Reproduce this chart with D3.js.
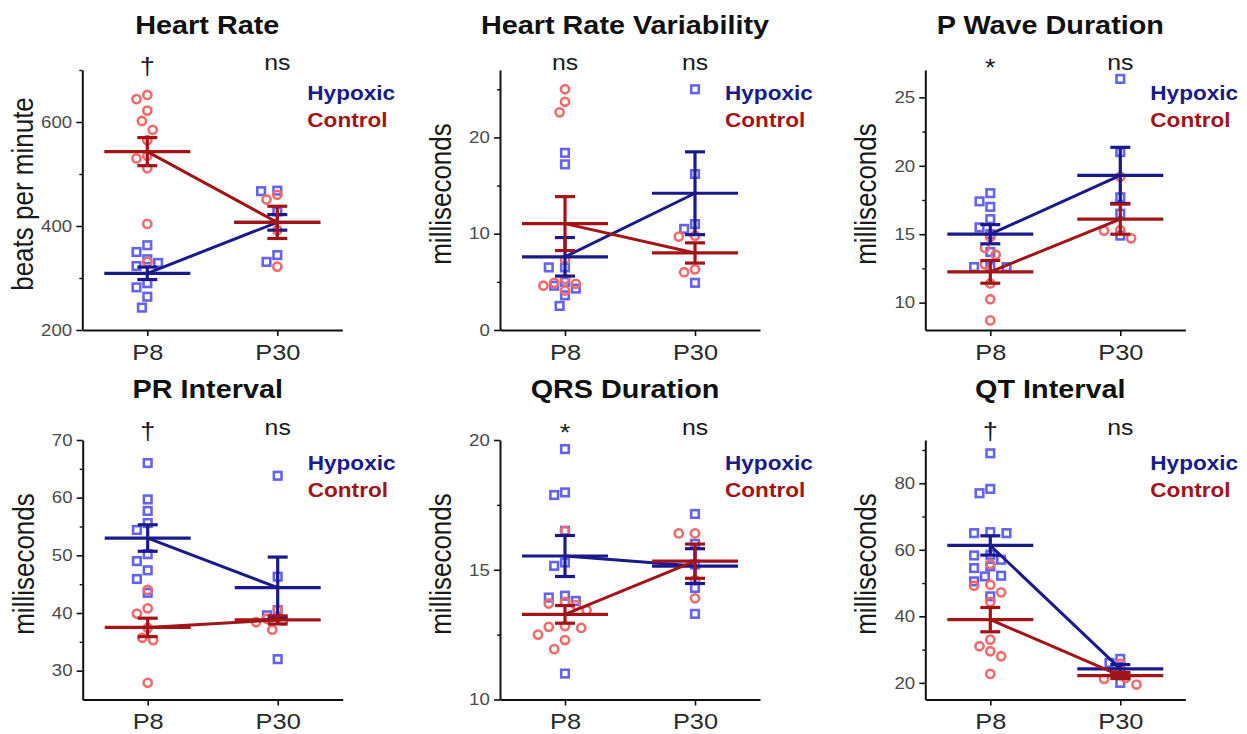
<!DOCTYPE html>
<html><head><meta charset="utf-8">
<script src="https://cdn.jsdelivr.net/npm/d3@7"></script>
<style>body{margin:0;background:#fff} svg{display:block;font-family:"Liberation Sans",Arial,sans-serif}</style>
</head><body><svg id="c" width="1247" height="734"></svg>
<script>
// ---------- DATA ----------
const groups = ["P8", "P30"];
const seriesNames = ["Hypoxic", "Control"];
const titles = ["Heart Rate", "Heart Rate Variability", "P Wave Duration", "PR Interval", "QRS Duration", "QT Interval"];
const yTitles = ["beats per minute", "milliseconds", "milliseconds", "milliseconds", "milliseconds", "milliseconds"];
const sigLabels = [["†", "ns"], ["ns", "ns"], ["*", "ns"], ["†", "ns"], ["*", "ns"], ["†", "ns"]];
const yDomains = [[200, 700], [0, 27], [8, 27], [25, 70], [10, 20], [15, 93]];
const yTicks = [[200, 400, 600], [0, 10, 20], [10, 15, 20, 25], [30, 40, 50, 60, 70], [10, 15, 20], [20, 40, 60, 80]];
const yMinorTicks = [[300, 500, 700], [5, 15, 25], [12.5, 17.5, 22.5], [35, 45, 55, 65], [12.5, 17.5], [30, 50, 70, 90]];

// raw points: hypoxic / control, P8 / P30
const heartRateHypoxicP8 = [363, 350, 336, 329, 323, 290, 282, 264, 243];
const heartRateHypoxicP30 = [468, 467, 428, 344, 331];
const heartRateControlP8 = [652, 644, 622, 602, 585, 565, 535, 530, 511, 404, 331];
const heartRateControlP30 = [460, 451, 392, 322];

const hrvHypoxicP8 = [18.4, 17.2, 6.5, 6.5, 5.0, 4.6, 4.3, 3.6, 2.5];
const hrvHypoxicP30 = [25.0, 16.2, 11.0, 10.5, 4.9];
const hrvControlP8 = [25.0, 23.7, 22.6, 7.3, 5.3, 4.9, 4.8, 4.6, 4.1];
const hrvControlP30 = [9.8, 9.7, 6.3, 6.0];

const pWaveHypoxicP8 = [18.0, 17.4, 17.0, 16.1, 15.5, 15.0, 13.7, 12.6, 12.6, 12.6];
const pWaveHypoxicP30 = [26.35, 21.0, 17.7, 16.5, 14.9];
const pWaveControlP8 = [14.8, 14.0, 13.5, 12.8, 11.4, 10.25, 8.7];
const pWaveControlP30 = [19.2, 15.3, 15.25, 14.7];

const prHypoxicP8 = [66.0, 59.7, 57.7, 55.6, 54.4, 50.2, 49.0, 47.4, 45.9, 43.5];
const prHypoxicP30 = [63.8, 46.3, 40.5, 39.6, 32.0];
const prControlP8 = [44.0, 40.8, 39.9, 37.4, 35.7, 35.3, 27.9];
const prControlP30 = [40.6, 39.0, 38.7, 38.4, 37.1];

const qrsHypoxicP8 = [19.65, 17.98, 17.88, 16.5, 15.28, 15.15, 14.0, 13.93, 13.8, 11.0];
const qrsHypoxicP30 = [17.15, 16.0, 15.2, 14.3, 13.3];
const qrsControlP8 = [16.5, 13.76, 13.7, 13.64, 13.44, 12.83, 12.8, 12.76, 12.5, 12.29, 11.94];
const qrsControlP30 = [16.4, 16.4, 14.6, 13.9];

const qtHypoxicP8 = [89.0, 78.3, 77.0, 65.3, 65.0, 65.0, 58.5, 58.3, 57.0, 55.0, 54.5, 52.2, 52.0, 50.5, 46.0];
const qtHypoxicP30 = [27.2, 26.0, 23.5, 20.0];
const qtControlP8 = [55.7, 49.5, 49.2, 47.2, 44.3, 33.0, 31.0, 29.5, 28.0, 22.7];
const qtControlP30 = [25.8, 22.5, 21.5, 21.2, 19.5];

// mean and SEM per panel, [P8, P30]
const hypoxicMeans = [[309, 407], [7.6, 14.2], [15.0, 19.3], [53.0, 44.4], [15.53, 15.14], [61.3, 24.2]];
const hypoxicSEM = [[12, 15], [2.0, 4.3], [0.7, 2.05], [2.3, 5.3], [0.79, 0.67], [2.9, 1.3]];
const controlMeans = [[543, 407], [11.05, 8.0], [12.25, 16.1], [37.5, 38.8], [13.28, 15.33], [39.0, 22.2]];
const controlSEM = [[27, 31], [2.8, 1.05], [0.83, 1.1], [1.6, 0.7], [0.34, 0.66], [3.65, 0.9]];

const hypoxicPoints = [
  [heartRateHypoxicP8, heartRateHypoxicP30], [hrvHypoxicP8, hrvHypoxicP30], [pWaveHypoxicP8, pWaveHypoxicP30],
  [prHypoxicP8, prHypoxicP30], [qrsHypoxicP8, qrsHypoxicP30], [qtHypoxicP8, qtHypoxicP30]];
const controlPoints = [
  [heartRateControlP8, heartRateControlP30], [hrvControlP8, hrvControlP30], [pWaveControlP8, pWaveControlP30],
  [prControlP8, prControlP30], [qrsControlP8, qrsControlP30], [qtControlP8, qtControlP30]];

// ---------- LAYOUT / STYLE ----------
const SX = 1.13; // horizontal text stretch of the reference
const FONT = '"Liberation Sans", Arial, sans-serif';
const axisXs = [82.3, 500, 925.3, 82.7, 500, 925.3];
const rowTop = [70, 440], rowBottom = [330, 699.5];
const titleY = [33.5, 397.5], sigY = [70, 435], legendY = [[100, 126.5], [470, 496.5]], yTitleY = [194, 564];
const hypMarker = "#6464f0", ctlMarker = "#f06c6c";
const hypLine = "#1b1a8c", ctlLine = "#a31417";

const svg = d3.select("#c");

function stretchText(g, x, y, txt) {
  return g.append("text").attr("transform", `translate(${x},${y}) scale(${SX},1)`).text(txt);
}

function dodge(values, y, cx, minDist, step) {
  const items = values.map(v => ({ v, py: y(v) })).sort((a, b) => a.py - b.py);
  const placed = [];
  items.forEach(p => {
    for (let k = 0; k < 40; k++) {
      const off = k === 0 ? 0 : (k % 2 ? -1 : 1) * Math.ceil(k / 2) * step;
      const px = cx + off;
      if (placed.every(q => (q.px - px) ** 2 + (q.py - p.py) ** 2 >= minDist * minDist)) {
        p.px = px; placed.push(p); break;
      }
    }
  });
  return placed;
}

for (let i = 0; i < 6; i++) {
  const row = i < 3 ? 0 : 1;
  const ax = axisXs[i], top = rowTop[row], bottom = rowBottom[row];
  const g = svg.append("g");
  const y = d3.scaleLinear().domain(yDomains[i]).range([bottom, top]);
  const x = d3.scalePoint().domain(groups).range([ax, ax + 260]).padding(0.5);

  // y axis
  const ya = g.append("g").attr("transform", `translate(${ax},0)`)
    .call(d3.axisLeft(y).tickValues(yTicks[i]).tickSize(6).tickSizeOuter(0).tickPadding(3));
  ya.select(".domain").attr("stroke", "#111").attr("stroke-width", 2);
  ya.selectAll(".tick line").attr("stroke", "#111").attr("stroke-width", 1.6);
  ya.selectAll(".tick text").attr("font-family", FONT).attr("font-size", 16.5).attr("fill", "#4a4a4a")
    .attr("transform", `scale(${SX},1)`);
  const ym = g.append("g").attr("transform", `translate(${ax},0)`)
    .call(d3.axisLeft(y).tickValues(yMinorTicks[i]).tickSize(3).tickFormat(""));
  ym.select(".domain").remove();
  ym.selectAll(".tick line").attr("stroke", "#111").attr("stroke-width", 1.4);

  // x axis
  const xa = g.append("g").attr("transform", `translate(0,${bottom})`)
    .call(d3.axisBottom(x).tickSize(6).tickSizeOuter(0).tickPadding(8));
  xa.select(".domain").attr("stroke", "#111").attr("stroke-width", 2);
  xa.selectAll(".tick line").attr("stroke", "#111").attr("stroke-width", 1.6);
  xa.selectAll(".tick text").attr("font-family", FONT).attr("font-size", 22.5).attr("fill", "#2a2a2a")
    .attr("transform", `scale(${SX},1)`);

  // points
  const drawSeries = (pts, type) => {
    groups.forEach((grp, gi) => {
      const placed = dodge(pts[gi], y, x(grp), 11, 5.4);
      if (type === "sq") {
        g.append("g").selectAll("rect").data(placed).join("rect")
          .attr("x", d => d.px - 3.8).attr("y", d => d.py - 3.8).attr("width", 7.6).attr("height", 7.6)
          .attr("fill", "none").attr("stroke", hypMarker).attr("stroke-width", 2.6);
      } else {
        g.append("g").selectAll("circle").data(placed).join("circle")
          .attr("cx", d => d.px).attr("cy", d => d.py).attr("r", 4.1)
          .attr("fill", "none").attr("stroke", ctlMarker).attr("stroke-width", 2.6);
      }
    });
  };
  drawSeries(hypoxicPoints[i], "sq");
  drawSeries(controlPoints[i], "ci");

  // means, sem, connecting lines
  const drawSummary = (means, sems, color) => {
    const s = g.append("g").attr("stroke", color).attr("fill", "none");
    s.append("path").attr("stroke-width", 3)
      .attr("d", d3.line()(groups.map((grp, gi) => [x(grp), y(means[gi])])));
    groups.forEach((grp, gi) => {
      const cx = x(grp), m = means[gi], e = sems[gi];
      s.append("line").attr("x1", cx - 43).attr("x2", cx + 43).attr("y1", y(m)).attr("y2", y(m)).attr("stroke-width", 3.2);
      s.append("line").attr("x1", cx).attr("x2", cx).attr("y1", y(m - e)).attr("y2", y(m + e)).attr("stroke-width", 3.2);
      [m - e, m + e].forEach(v => s.append("line").attr("x1", cx - 10).attr("x2", cx + 10)
        .attr("y1", y(v)).attr("y2", y(v)).attr("stroke-width", 3.2));
    });
  };
  drawSummary(hypoxicMeans[i], hypoxicSEM[i], hypLine);
  drawSummary(controlMeans[i], controlSEM[i], ctlLine);

  // title
  stretchText(g, ax + 125, titleY[row], titles[i])
    .attr("text-anchor", "middle").attr("font-family", FONT).attr("font-weight", "bold")
    .attr("font-size", 25.5).attr("fill", "#111");

  // y title
  g.append("text").attr("transform", `translate(${ax - 49},${yTitleY[row]}) scale(${SX},1) rotate(-90)`)
    .attr("text-anchor", "middle").attr("font-family", FONT).attr("font-size", 26).attr("fill", "#1a1a1a")
    .text(yTitles[i]);

  // significance labels
  groups.forEach((grp, gi) => {
    const lab = sigLabels[i][gi];
    stretchText(g, x(grp), sigY[row] + (lab === "†" ? 4 : lab === "*" ? 6 : 0), lab)
      .attr("text-anchor", "middle").attr("font-family", FONT).attr("fill", "#1a1a1a")
      .attr("font-size", lab === "†" ? 24 : lab === "*" ? 24 : 22);
  });

  // legend
  seriesNames.forEach((nm, si) => {
    stretchText(g, ax + 225, legendY[row][si], nm)
      .attr("font-family", FONT).attr("font-weight", "bold").attr("font-size", 20)
      .attr("fill", si === 0 ? hypLine : ctlLine);
  });
}
</script></body></html>
